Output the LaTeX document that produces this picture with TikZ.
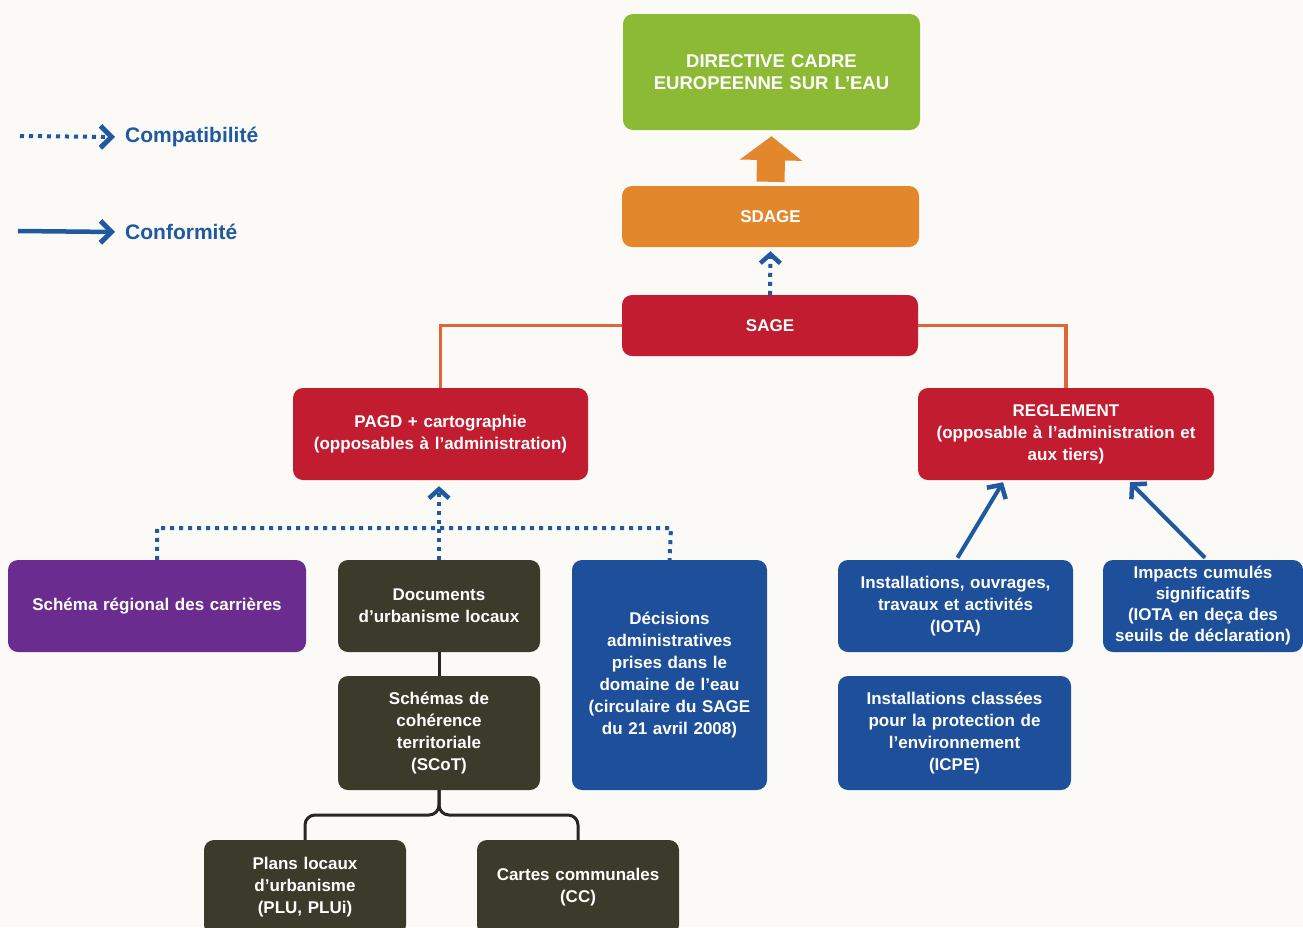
\documentclass[tikz,border=0pt]{standalone}
\usepackage{fontspec}
\setmainfont{Liberation Sans}
\usetikzlibrary{arrows.meta}
\definecolor{bgc}{HTML}{FBFAF6}
\definecolor{cgreen}{HTML}{8CBA34}
\definecolor{corange}{HTML}{E2872C}
\definecolor{cred}{HTML}{C21C30}
\definecolor{cpurple}{HTML}{6A2C8E}
\definecolor{cdark}{HTML}{3B3B2C}
\definecolor{cblue}{HTML}{1E4F9A}
\definecolor{carrow}{HTML}{1F5AA0}
\definecolor{cline}{HTML}{E0663A}
\begin{document}
\begin{tikzpicture}[x=1pt,y=-1pt,
  box/.style={rounded corners=10pt, inner sep=0pt, align=center, text=white,
    font=\bfseries\fontsize{17}{22}\selectfont},
  legtext/.style={anchor=west, inner sep=0pt, text=carrow, font=\bfseries\fontsize{21}{24}\selectfont},
  compat/.style={draw=carrow, line width=4pt, dash pattern=on 4pt off 5pt},
  compatarrow/.style={compat, -{Straight Barb[length=9pt,width=20pt,line width=4.5pt]}},
  conform/.style={draw=carrow, line width=4pt, -{Straight Barb[length=10pt,width=22pt,line width=4.5pt]}},
  orangeline/.style={draw=cline, line width=3.2pt},
  darkline/.style={draw=black!85, line width=3pt, rounded corners=10pt},
  bigarrow/.style={draw=corange, line width=28pt, -{Triangle[length=24pt,width=61pt]}}
]
\fill[bgc] (0,0) rectangle (1303,927);
\useasboundingbox (0,0) rectangle (1303,927);

% Legend
\coordinate (l1a) at (20,136);
\node[legtext] (l1t) at (125,137) {Compatibilité};
\draw[compat, -{Straight Barb[length=11pt,width=22pt,line width=5pt]}] (l1a) -- ([xshift=-10pt]l1t.west);
\coordinate (l2a) at (18,231);
\node[legtext] (l2t) at (125,232) {Conformité};
\draw[conform, line width=4.5pt, -{Straight Barb[length=11pt,width=22pt,line width=5pt]}] (l2a) -- ([xshift=-10pt]l2t.west);

% Boxes
\node[box, fill=cgreen, minimum width=297pt, minimum height=116pt, text width=285pt, font=\bfseries\fontsize{18.5}{22}\selectfont] (dce) at (771.5,72) {DIRECTIVE CADRE\\EUROPEENNE SUR L'EAU};
\node[box, fill=corange, minimum width=297pt, minimum height=61pt, text width=285pt] (sdage) at (770.5,216.5) {SDAGE};
\node[box, fill=cred, minimum width=296pt, minimum height=61pt, text width=285pt] (sage) at (770,325.5) {SAGE};
\node[box, fill=cred, minimum width=295pt, minimum height=92pt, text width=290pt] (pagd) at (440.5,434) {PAGD + cartographie\\(opposables à l'administration)};
\node[box, fill=cred, minimum width=296pt, minimum height=92pt, text width=290pt] (regl) at (1066,434) {REGLEMENT\\(opposable à l'administration et\\aux tiers)};
\node[box, fill=cpurple, minimum width=298pt, minimum height=92pt, text width=292pt] (carr) at (157,606) {Schéma régional des carrières};
\node[box, fill=cdark, minimum width=202pt, minimum height=92pt, text width=196pt] (docs) at (439,606) {Documents\\d'urbanisme locaux};
\node[box, fill=cblue, minimum width=195pt, minimum height=230pt, text width=190pt] (deci) at (669.5,675) {Décisions\\administratives\\prises dans le\\domaine de l'eau\\(circulaire du SAGE\\du 21 avril 2008)};
\node[box, fill=cblue, minimum width=235pt, minimum height=92pt, text width=230pt] (iota) at (955.5,606) {Installations, ouvrages,\\travaux et activités\\(IOTA)};
\node[box, fill=cblue, minimum width=200pt, minimum height=92pt, text width=198pt, font=\bfseries\fontsize{17}{21}\selectfont] (impa) at (1203,606) {Impacts cumulés\\significatifs\\(IOTA en deça des\\seuils de déclaration)};
\node[box, fill=cblue, minimum width=233pt, minimum height=114pt, text width=228pt] (icpe) at (954.5,733) {Installations classées\\pour la protection de\\l'environnement\\(ICPE)};
\node[box, fill=cdark, minimum width=202pt, minimum height=114pt, text width=196pt] (scot) at (439,733) {Schémas de\\cohérence\\territoriale\\(SCoT)};
\node[box, fill=cdark, minimum width=202pt, minimum height=95pt, text width=196pt] (plu) at (305,887.5) {Plans locaux\\d'urbanisme\\(PLU, PLUi)};
\node[box, fill=cdark, minimum width=202pt, minimum height=95pt, text width=196pt] (cc) at (578,887.5) {Cartes communales\\(CC)};

% Big arrow SDAGE -> DCE
\draw[bigarrow] ([yshift=4pt]sdage.north) -- ([yshift=-6pt]dce.south);

% SAGE -> SDAGE compatibility
\draw[compatarrow] (sage.north) -- ([yshift=-4pt]sdage.south);

% SAGE branches
\draw[orangeline] (sage.west) -| (pagd.north);
\draw[orangeline] (sage.east) -| (regl.north);

% Compatibility with PAGD
\coordinate (dl) at (157,528);
\coordinate (dr) at (671,528);
\draw[compat] (carr.north) -- (dl) -- (dr) -- (deci.north);
\draw[compatarrow] (docs.north) -- ([yshift=-6pt]docs.north |- pagd.south);

% Conformity with REGLEMENT
\draw[conform] ([xshift=2pt,yshift=2pt]iota.north) -- ([xshift=-63pt,yshift=-2pt]regl.south);
\draw[conform] ([xshift=2pt,yshift=2pt]impa.north) -- ([xshift=64pt,yshift=-2pt]regl.south);

% Urbanism tree
\draw[darkline] (docs.south) -- (scot.north);
\coordinate (br) at (439,815);
\draw[darkline] (scot.south) -- (br) -| (plu.north);
\draw[darkline] (scot.south) -- (br) -| (cc.north);
\end{tikzpicture}
\end{document}
